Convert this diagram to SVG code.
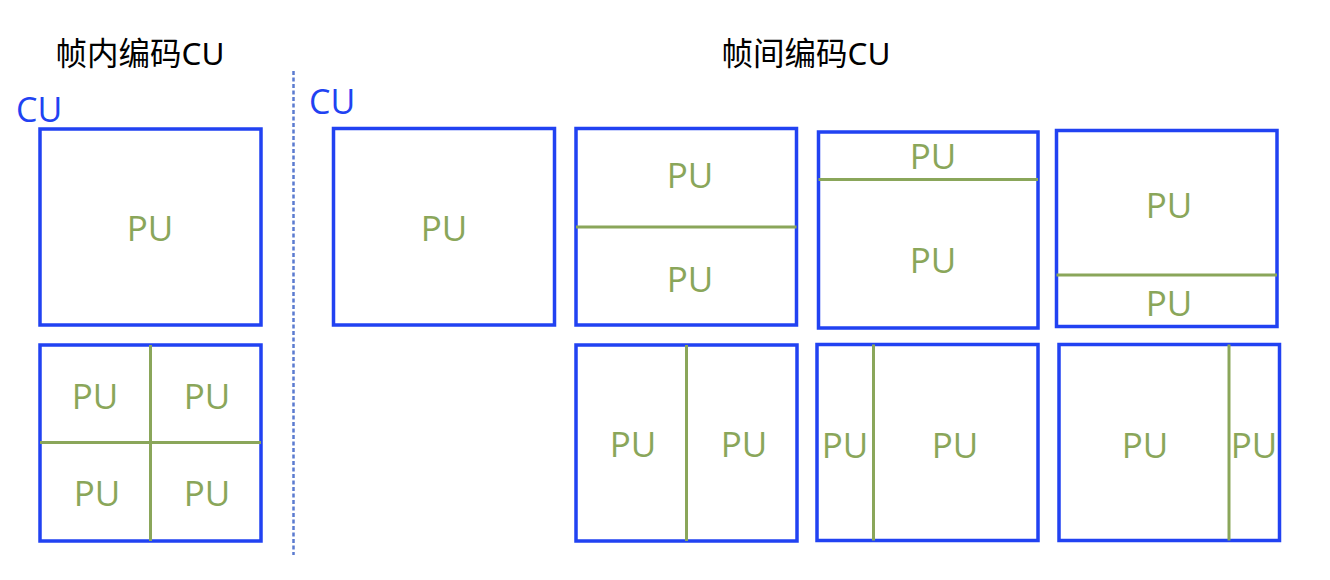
<svg xmlns="http://www.w3.org/2000/svg" width="1330" height="580" viewBox="0 0 1330 580">
<style>
.cu{fill:#fff;stroke:#2142f2;stroke-width:3.5}
.sp{stroke:#8aa65a;stroke-width:3;fill:none}
.pu{font-family:"Open Sans","Noto Sans",sans-serif;font-size:35px;fill:#8aa65a;text-anchor:middle}
.lbl{font-family:"Open Sans","Noto Sans",sans-serif;font-size:34px;fill:#2142f2}
.title{font-family:"Noto Sans","Noto Sans CJK SC",sans-serif;font-size:31.5px;fill:#000;text-anchor:middle}
</style>
<rect width="1330" height="580" fill="#fff"/>
<g id="titles">
<text class="title" x="140" y="65">帧内编码CU</text>
<text class="title" x="806" y="65">帧间编码CU</text>
<text class="lbl" x="16" y="122">CU</text>
<text class="lbl" x="309" y="114">CU</text>
</g>
<g id="divider">
<line x1="293.5" y1="71" x2="293.5" y2="555" stroke="#5b7bd0" stroke-width="2.5" stroke-dasharray="4,2.5"/>
</g>
<g id="intra-2Nx2N">
<rect class="cu" x="40" y="129" width="221" height="196"/>
<text class="pu" x="150" y="241">PU</text>
</g>
<g id="intra-NxN">
<rect class="cu" x="40" y="345" width="221" height="196"/>
<line class="sp" x1="150.5" y1="345" x2="150.5" y2="541"/>
<line class="sp" x1="40" y1="442.5" x2="261" y2="442.5"/>
<text class="pu" x="95" y="409">PU</text>
<text class="pu" x="207" y="409">PU</text>
<text class="pu" x="97" y="506">PU</text>
<text class="pu" x="207" y="506">PU</text>
</g>
<g id="inter-2Nx2N">
<rect class="cu" x="333.5" y="128.5" width="221" height="196.5"/>
<text class="pu" x="444" y="241">PU</text>
</g>
<g id="inter-2NxN">
<rect class="cu" x="576" y="128.5" width="220.5" height="196.5"/>
<line class="sp" x1="576" y1="227" x2="796.5" y2="227"/>
<text class="pu" x="690" y="188">PU</text>
<text class="pu" x="690" y="292">PU</text>
</g>
<g id="inter-2NxnU">
<rect class="cu" x="818.5" y="132" width="219.5" height="196"/>
<line class="sp" x1="818.5" y1="179.5" x2="1038" y2="179.5"/>
<text class="pu" x="933" y="169">PU</text>
<text class="pu" x="933" y="273">PU</text>
</g>
<g id="inter-2NxnD">
<rect class="cu" x="1056.5" y="130.5" width="220.5" height="196"/>
<line class="sp" x1="1056.5" y1="275" x2="1277" y2="275"/>
<text class="pu" x="1169" y="218">PU</text>
<text class="pu" x="1169" y="316">PU</text>
</g>
<g id="inter-Nx2N">
<rect class="cu" x="576" y="345" width="221" height="196"/>
<line class="sp" x1="686.5" y1="345" x2="686.5" y2="541"/>
<text class="pu" x="633" y="457">PU</text>
<text class="pu" x="744" y="457">PU</text>
</g>
<g id="inter-nLx2N">
<rect class="cu" x="817" y="344.5" width="221" height="196"/>
<line class="sp" x1="873.5" y1="344.5" x2="873.5" y2="540.5"/>
<text class="pu" x="845" y="458">PU</text>
<text class="pu" x="955" y="458">PU</text>
</g>
<g id="inter-nRx2N">
<rect class="cu" x="1059" y="344.5" width="220.5" height="196"/>
<line class="sp" x1="1229" y1="344.5" x2="1229" y2="540.5"/>
<text class="pu" x="1145" y="458">PU</text>
<text class="pu" x="1254" y="458">PU</text>
</g>
</svg>
